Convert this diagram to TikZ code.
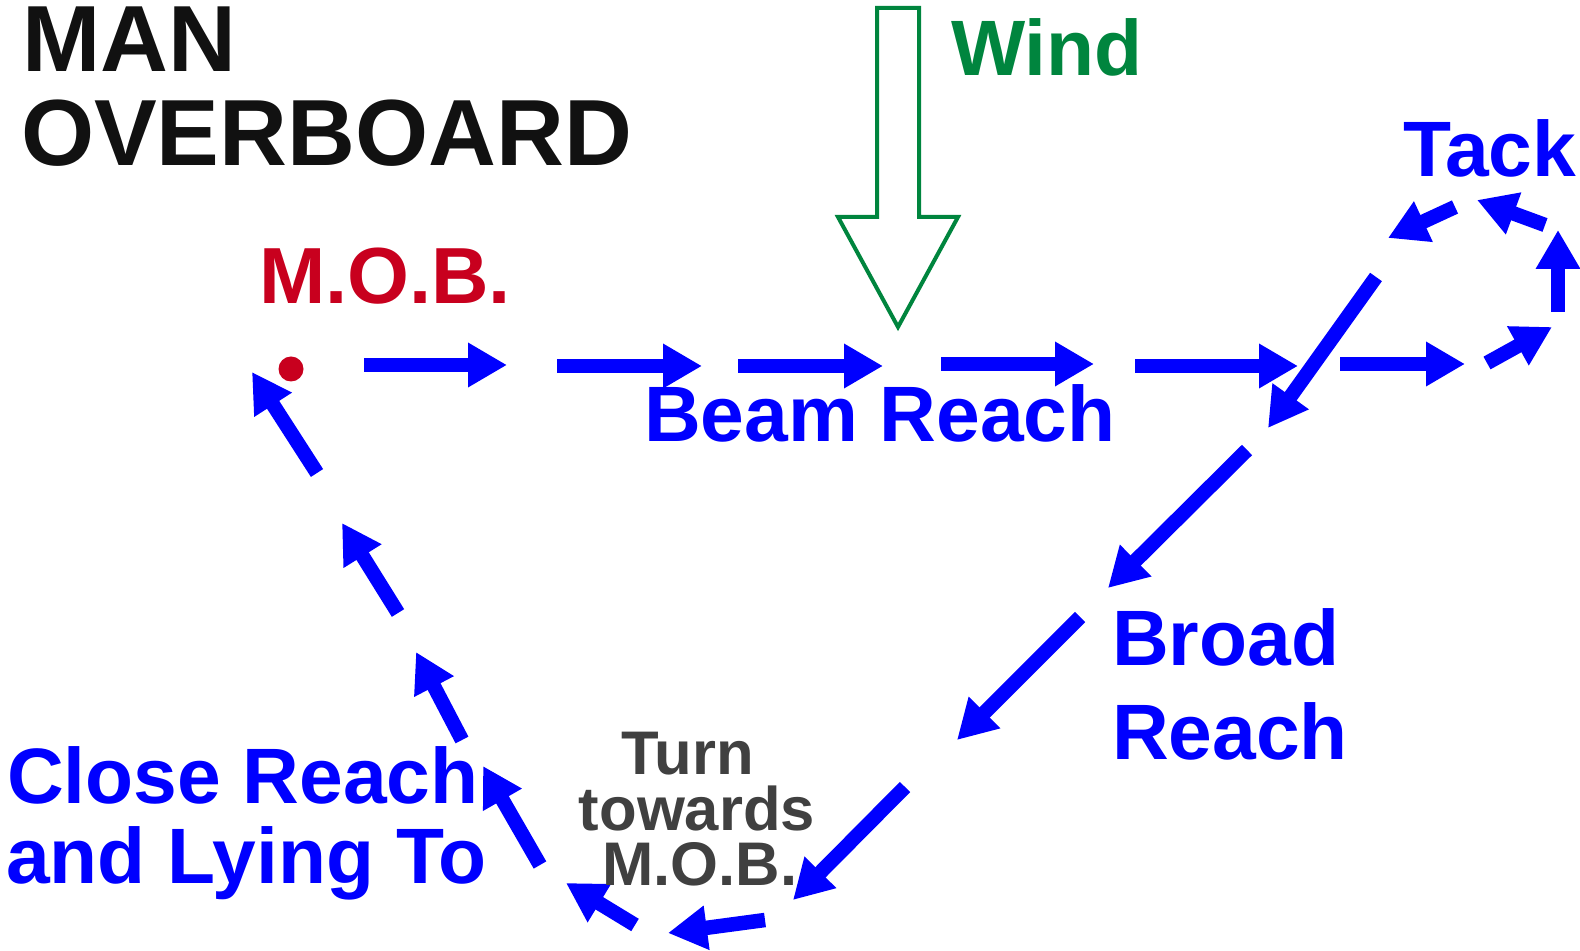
\documentclass[tikz,border=0pt]{standalone}
\usepackage{fontspec}
\setmainfont{Liberation Sans}
\usetikzlibrary{arrows.meta}
\definecolor{arrowblue}{RGB}{0,0,255}
\definecolor{windgreen}{RGB}{0,133,62}
\definecolor{mobred}{RGB}{200,0,30}
\definecolor{turngrey}{RGB}{64,64,64}
\definecolor{titleblack}{RGB}{17,17,17}
\tikzset{
  course/.style={draw=arrowblue, line width=7.25pt, -{Triangle[length=19.5pt,width=21pt]}},
  lbl/.style={inner sep=0pt, outer sep=0pt, anchor=base west, font=\bfseries\fontsize{39.3pt}{46pt}\selectfont},
  bluelbl/.style={lbl, text=arrowblue},
  titlelbl/.style={lbl, text=titleblack, font=\bfseries\fontsize{47pt}{50pt}\selectfont},
  turnlbl/.style={lbl, anchor=base, text=turngrey, font=\bfseries\fontsize{30.8pt}{32pt}\selectfont},
  windarrow/.style={draw=windgreen, line width=2pt, line join=miter, fill=white}
}
\begin{document}
\begin{tikzpicture}[x=0.5pt,y=-0.5pt]
\useasboundingbox (0,0) rectangle (1580,951);

% title
\node[titlelbl] (man) at (22,72) {MAN};
\node[titlelbl] (overboard) at (21,166) {OVERBOARD};

% wind arrow
\coordinate (wtl) at (877,8);
\coordinate (wtr) at (919,8);
\coordinate (wbl) at (877,217);
\coordinate (wbr) at (919,217);
\coordinate (whl) at (838,217);
\coordinate (whr) at (958,217);
\coordinate (wtip) at (898,327);
\draw[windarrow] (wbl) -- (wtl) -- (wtr) -- (wbr) -- (whr) -- (wtip) -- (whl) -- cycle;
\node[lbl, text=windgreen] (wind) at (951,76) {Wind};

% man overboard point
\node[lbl, text=mobred, font=\bfseries\fontsize{39.8pt}{46pt}\selectfont] (mob) at (259,304) {M.O.B.};
\coordinate (mobpt) at (291,369);
\fill[mobred] (mobpt) circle (6.25pt);

% course arrows
\foreach \i/\ax/\ay/\bx/\by in {
  1/364/365/507/365,
  2/557/366/702/366,
  3/738/366/883/366,
  4/941/364/1094/364,
  5/1135/366/1298/366,
  6/1340/364/1465/364,
  7/1487/363/1552/327,
  8/1558/312/1558/230,
  9/1545/225/1477/200,
  10/1455/207/1388/238,
  11/1376/277/1268/428,
  12/1247/450/1108/588,
  13/1080/617/957/740,
  14/905/787/793/900,
  15/765/920/668/933,
  16/635/925/566/883,
  17/540/865/483/766,
  18/462/740/416/652,
  19/398/613/342/523,
  20/317/473/252/372} {
  \coordinate (s\i) at (\ax,\ay);
  \coordinate (e\i) at (\bx,\by);
  \draw[course] (s\i) -- (e\i);
}

% labels
\node[bluelbl] (beam) at (644,442) {Beam Reach};
\node[bluelbl] (tack) at (1403,177) {Tack};
\node[bluelbl] (broad1) at (1112,666) {Broad};
\node[bluelbl] (broad2) at (1112,760) {Reach};
\node[bluelbl] (close1) at (7,803) {Close Reach};
\node[bluelbl] (close2) at (6,883) {and Lying To};
\node[turnlbl] (turn1) at (688,775) {Turn};
\node[turnlbl] (turn2) at (697,830) {towards};
\node[turnlbl] (turn3) at (700,885) {M.O.B.};
\end{tikzpicture}
\end{document}
